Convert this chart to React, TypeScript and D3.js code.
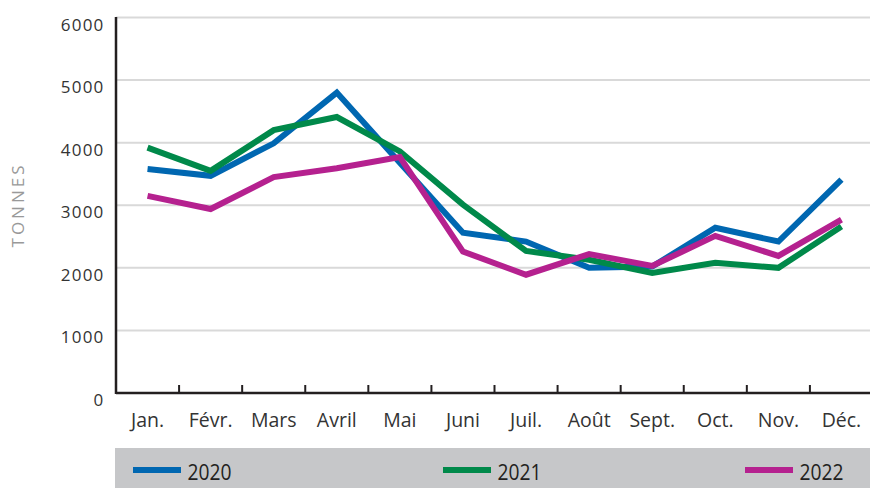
import React from "react";
import * as d3 from "d3";

const months = ["Jan.", "Févr.", "Mars", "Avril", "Mai", "Juni", "Juil.", "Août", "Sept.", "Oct.", "Nov.", "Déc."];
const yTicks = [0, 1000, 2000, 3000, 4000, 5000, 6000];
const values2020 = [3580, 3470, 3990, 4800, 3680, 2560, 2420, 2000, 2020, 2640, 2420, 3410];
const values2021 = [3920, 3550, 4200, 4410, 3860, 3010, 2270, 2130, 1920, 2080, 2000, 2660];
const values2022 = [3150, 2940, 3450, 3590, 3770, 2260, 1890, 2220, 2030, 2510, 2190, 2770];
const seriesNames = ["2020", "2021", "2022"];
const seriesColors = ["#0067b1", "#00894a", "#b5218f"];

export default function App() {
  const W = 870, H = 488;
  const x0 = 116, x1 = 873;
  const x = d3.scaleBand<string>().domain(months).range([x0, x1]);
  const y = d3.scaleLinear().domain([0, 6000]).range([393, 17.5]);
  const line = d3.line<number>().x((_, i) => (x(months[i]) as number) + x.bandwidth() / 2).y((d) => y(d));
  const series = [values2020, values2021, values2022];
  const font = "'Open Sans', sans-serif";
  const legendX = [133, 443, 745];
  return (
    <svg width={W} height={H} style={{ position: "absolute", left: 0, top: 0 }}>
      <rect width={W} height={H} fill="#fff" />
      {yTicks.filter((t) => t > 0).map((t) => (
        <line key={t} x1={x0} x2={W} y1={y(t)} y2={y(t)} stroke="#d9d9d9" strokeWidth={2} />
      ))}
      {yTicks.map((t) => (
        <text key={t} x={104.5} y={y(t) + 13} textAnchor="end" fontFamily={font} fontSize={17} letterSpacing={1.2} fill="#333">
          {t}
        </text>
      ))}
      <text
        transform={`translate(24,205) rotate(-90)`}
        textAnchor="middle"
        fontFamily={font}
        fontSize={17}
        letterSpacing={3}
        fill="#999"
      >
        TONNES
      </text>
      {series.map((s, i) => (
        <path key={i} d={line(s) || ""} fill="none" stroke={seriesColors[i]} strokeWidth={6} strokeLinejoin="miter" />
      ))}
      <line x1={x0} x2={x0} y1={17} y2={394} stroke="#231f20" strokeWidth={2.5} />
      <line x1={x0} x2={W} y1={393} y2={393} stroke="#231f20" strokeWidth={2.5} />
      {months.slice(1).map((m) => (
        <line key={m} x1={x(m) as number} x2={x(m) as number} y1={393} y2={385} stroke="#231f20" strokeWidth={2} />
      ))}
      {months.map((m) => (
        <text key={m} x={(x(m) as number) + x.bandwidth() / 2} y={426.5} textAnchor="middle" fontFamily={font} fontSize={19.5} fill="#333">
          {m}
        </text>
      ))}
      <rect x={115} y={448} width={W - 115} height={40} fill="#c6c7c9" />
      {seriesNames.map((n, i) => (
        <g key={n}>
          <rect x={legendX[i]} y={467} width={48} height={6} fill={seriesColors[i]} />
          <text x={legendX[i] + 54.5} y={479.5} fontFamily={font} fontSize={21} textLength={44} lengthAdjust="spacingAndGlyphs" fill="#231f20">
            {n}
          </text>
        </g>
      ))}
    </svg>
  );
}
